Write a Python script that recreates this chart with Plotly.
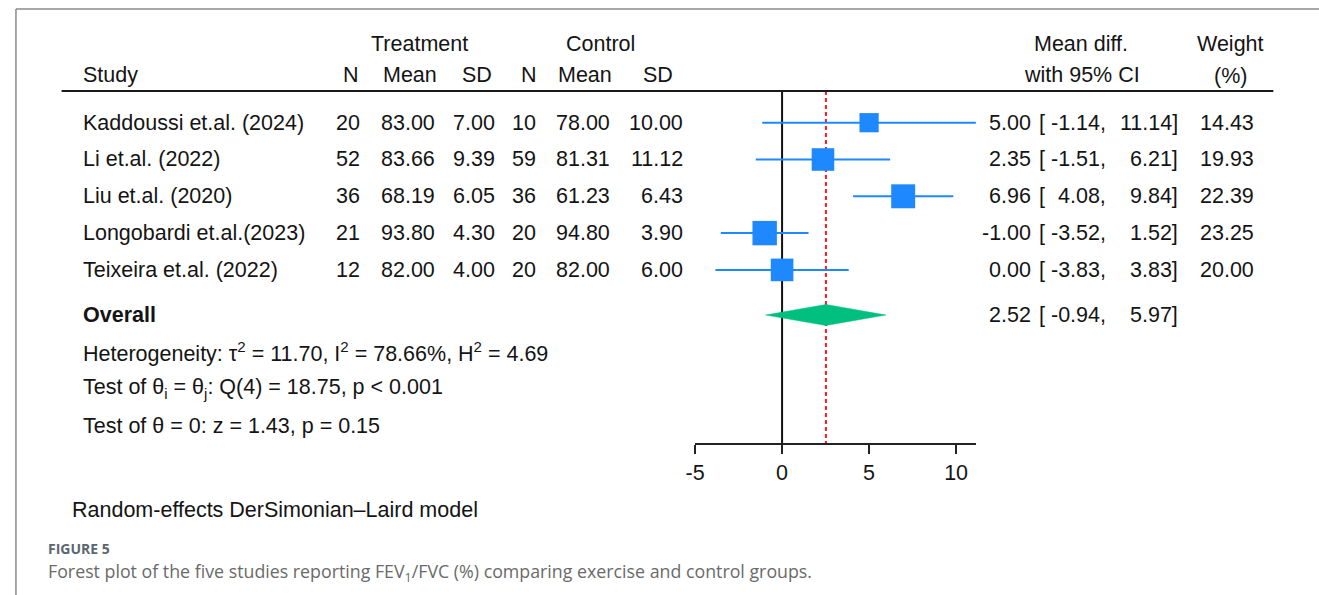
import math
import plotly.graph_objects as go

# ---- study data -------------------------------------------------------
studies = ["Kaddoussi et.al. (2024)", "Li et.al. (2022)", "Liu et.al. (2020)",
           "Longobardi et.al.(2023)", "Teixeira et.al. (2022)"]
trt_n = [20, 52, 36, 21, 12]
trt_mean = [83.00, 83.66, 68.19, 93.80, 82.00]
trt_sd = [7.00, 9.39, 6.05, 4.30, 4.00]
ctl_n = [10, 59, 36, 20, 20]
ctl_mean = [78.00, 81.31, 61.23, 94.80, 82.00]
ctl_sd = [10.00, 11.12, 6.43, 3.90, 6.00]
mean_diff = [5.00, 2.35, 6.96, -1.00, 0.00]
ci_low = [-1.14, -1.51, 4.08, -3.52, -3.83]
ci_high = [11.14, 6.21, 9.84, 1.52, 3.83]
weight = [14.43, 19.93, 22.39, 23.25, 20.00]

overall_md = 2.52
overall_low = -0.94
overall_high = 5.97

tau2, i2, h2 = 11.70, 78.66, 4.69
q_df, q_stat = 4, 18.75
z_stat, z_p = 1.43, 0.15
x_ticks = [-5, 0, 5, 10]

# ---- page geometry (pixels) -------------------------------------------
W, H = 1319, 595
AXIS_Y = 443.3          # bottom of the forest panel
HEAD_Y = 91             # header rule
ROW0, ROW_STEP = 122.7, 36.8
row_y = [ROW0 + i * ROW_STEP for i in range(len(studies))]
overall_y = 315
stats_y = [351.5, 388.5, 425.5]

FONT = "Liberation Sans, Arial, sans-serif"
FS = 21.5
INK = "#141414"
BLUE = "#1E88FF"
GREEN = "#00BF7F"


def px(x):
    return x / W


def py(y):
    return 1 - y / H


annotations = []


def txt(x, y, s, anchor="left", size=FS, color=INK, family=FONT, weight=None):
    f = dict(family=family, size=size, color=color)
    if weight is not None:
        f["weight"] = weight
    annotations.append(dict(
        x=px(x), y=py(y), xref="paper", yref="paper", text=s,
        xanchor=anchor, yanchor="middle", align=anchor, showarrow=False,
        borderpad=0, borderwidth=0, font=f))


# ---- header ------------------------------------------------------------
txt(412.5, 44, "Treatment", "center")
txt(595.5, 44, "Control", "center")
txt(1079.5, 44, "Mean diff.", "center")
txt(1230, 44, "Weight", "center")
txt(74, 75, "Study")
for cx, s in [(344, "N"), (403, "Mean"), (471, "SD"),
              (522.5, "N"), (579, "Mean"), (653, "SD")]:
    txt(cx, 75, s, "center")
txt(1080, 75, "with 95% CI", "center")
txt(1230, 76, "(%)", "center")

# ---- study rows ----------------------------------------------------------
EST_R, BR_L, LO_R, HI_R, WT_R = 1029.3, 1037, 1104, 1177, 1253.3
for i, name in enumerate(studies):
    y = row_y[i]
    txt(74, y, name)
    txt(353, y, f"{trt_n[i]}", "right")
    txt(428, y, f"{trt_mean[i]:.2f}", "right")
    txt(489, y, f"{trt_sd[i]:.2f}", "right")
    txt(530.5, y, f"{ctl_n[i]}", "right")
    txt(604.5, y, f"{ctl_mean[i]:.2f}", "right")
    txt(678, y, f"{ctl_sd[i]:.2f}", "right")
    txt(EST_R, y, f"{mean_diff[i]:.2f}", "right")
    txt(BR_L, y, "[")
    txt(LO_R, y, f"{ci_low[i]:.2f},", "right")
    txt(HI_R, y, f"{ci_high[i]:.2f}]", "right")
    txt(WT_R, y, f"{weight[i]:.2f}", "right")

# ---- overall & statistics ---------------------------------------------------
txt(74, overall_y, "<b>Overall</b>")
txt(EST_R, overall_y, f"{overall_md:.2f}", "right")
txt(BR_L, overall_y, "[")
txt(LO_R, overall_y, f"{overall_low:.2f},", "right")
txt(HI_R, overall_y, f"{overall_high:.2f}]", "right")

txt(74, stats_y[0],
    f"Heterogeneity: τ<sup>2</sup> = {tau2:.2f}, I<sup>2</sup> = {i2:.2f}%, "
    f"H<sup>2</sup> = {h2:.2f}")
txt(74, stats_y[1],
    f"Test of θ<sub>i</sub> = θ<sub>j</sub>: Q({q_df}) = {q_stat:.2f}, p &lt; 0.001")
txt(74, stats_y[2], f"Test of θ = 0: z = {z_stat:.2f}, p = {z_p:.2f}")

txt(62, 510, "Random-effects DerSimonian–Laird model")

# ---- caption -----------------------------------------------------------------
CAP_FONT = "Open Sans, Noto Sans, sans-serif"
txt(38, 548, "FIGURE 5", size=14, color="#5c6670", family=CAP_FONT, weight=700)
txt(38, 572.5,
    "Forest plot of the five studies reporting FEV<sub>1</sub>/FVC (%) comparing "
    "exercise and control groups.",
    size=17.8, color="#6a6a6a", family=CAP_FONT)

# ---- traces --------------------------------------------------------------------
fig = go.Figure()

# line of no effect
fig.add_trace(go.Scatter(x=[0, 0], y=[HEAD_Y, AXIS_Y], mode="lines",
                         line=dict(color="#111111", width=2), hoverinfo="skip"))
# overall estimate reference line
fig.add_trace(go.Scatter(x=[overall_md, overall_md], y=[HEAD_Y, AXIS_Y], mode="lines",
                         line=dict(color="#ff1a1a", width=2, dash="4px,3px"),
                         hoverinfo="skip"))

# study estimates with confidence intervals
fig.add_trace(go.Scatter(
    x=mean_diff, y=row_y, mode="markers",
    marker=dict(symbol="square", size=[5.06 * math.sqrt(w) for w in weight],
                color=BLUE, opacity=1, line=dict(width=0)),
    error_x=dict(type="data", symmetric=False,
                 array=[h - m for h, m in zip(ci_high, mean_diff)],
                 arrayminus=[m - l for m, l in zip(mean_diff, ci_low)],
                 width=0, thickness=2, color=BLUE),
    cliponaxis=False, hoverinfo="skip"))

# overall diamond
half_h = 10.5
fig.add_trace(go.Scatter(
    x=[overall_low, overall_md, overall_high, overall_md, overall_low],
    y=[overall_y, overall_y - half_h, overall_y, overall_y + half_h, overall_y],
    mode="lines", fill="toself", fillcolor=GREEN,
    line=dict(color=GREEN, width=0.5), hoverinfo="skip"))

# ---- frame and header rule ----------------------------------------------------------
shapes = [
    dict(type="line", xref="paper", yref="paper", x0=px(6), x1=1, y0=py(9), y1=py(9),
         line=dict(color="#8a8a8a", width=1.5)),
    dict(type="line", xref="paper", yref="paper", x0=px(6), x1=px(6), y0=py(9), y1=0,
         line=dict(color="#8a8a8a", width=1.5)),
    dict(type="line", xref="paper", yref="paper", x0=px(52), x1=px(1273),
         y0=py(HEAD_Y), y1=py(HEAD_Y), line=dict(color="#1a1a1a", width=2)),
]

x_lo, x_hi = -5, max(ci_high)
fig.update_layout(
    width=W, height=H, margin=dict(l=0, r=0, t=0, b=0),
    paper_bgcolor="white", plot_bgcolor="white", showlegend=False,
    annotations=annotations, shapes=shapes,
    xaxis=dict(domain=[px(690.3), px(973.3)], range=[x_lo, x_hi],
               tickvals=x_ticks, ticktext=[str(t) for t in x_ticks],
               ticks="outside", ticklen=9, tickwidth=1.5, tickcolor="#222",
               showline=True, linewidth=1.5, linecolor="#222",
               showgrid=False, zeroline=False,
               tickfont=dict(family=FONT, size=FS, color=INK)),
    yaxis=dict(domain=[1 - AXIS_Y / H, 1], range=[AXIS_Y, 0], visible=False,
               showgrid=False, zeroline=False),
)

fig.write_html("out.html")
